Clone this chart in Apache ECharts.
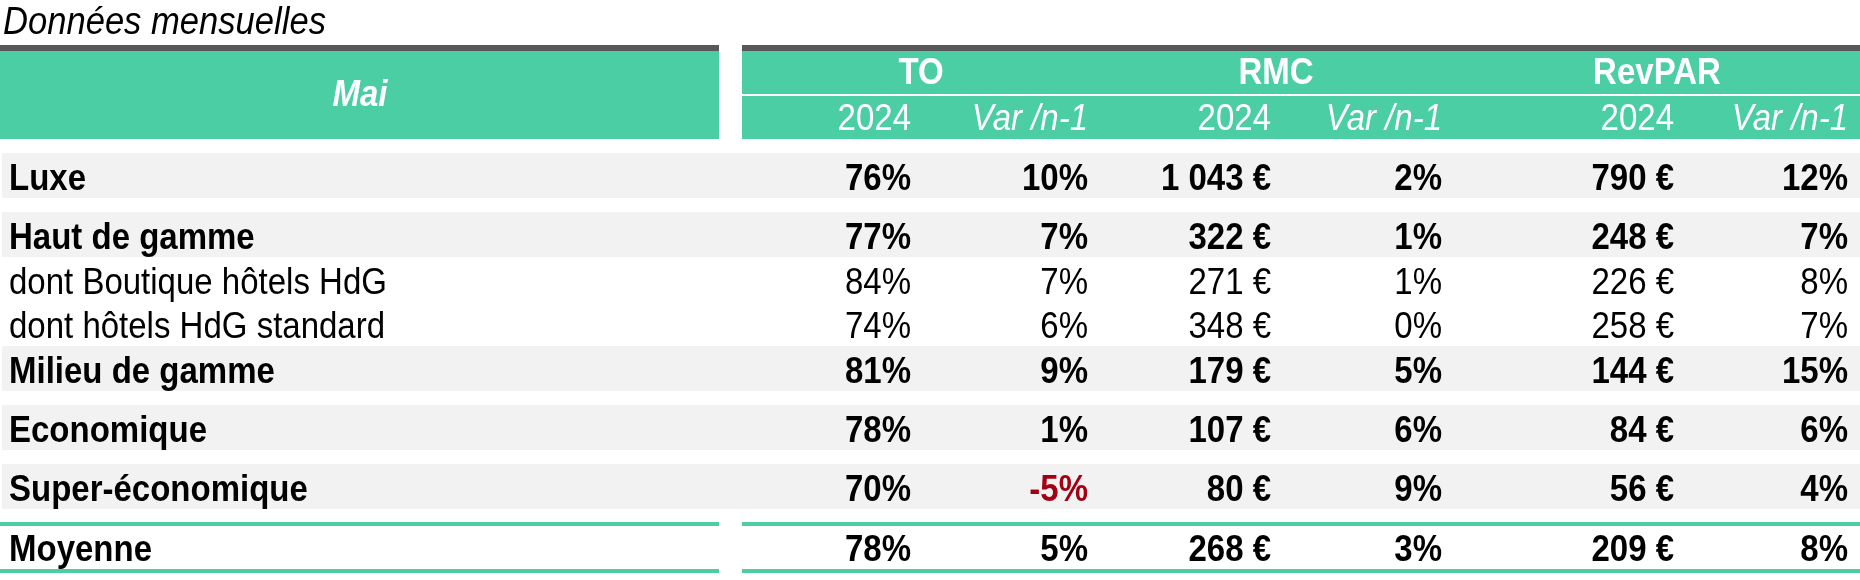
<!DOCTYPE html>
<html>
<head>
<meta charset="utf-8">
<title>Données mensuelles</title>
<script src="https://cdn.jsdelivr.net/npm/echarts@6/dist/echarts.min.js"></script>
<style>
    html, body { margin: 0; padding: 0; background: #fff; }
    #table_mai { width: 1860px; height: 580px; }
</style>
</head>
<body>
<div id="table_mai"></div>
<script>
// données du tableau
const titleText = 'Données mensuelles';
const periodLabel = 'Mai';
const groupLabels = ['TO', 'RMC', 'RevPAR'];
const subLabels = ['2024', 'Var /n-1'];
const categories = ['Luxe', 'Haut de gamme', 'dont Boutique hôtels HdG', 'dont hôtels HdG standard',
    'Milieu de gamme', 'Economique', 'Super-économique', 'Moyenne'];
const boldRows = [true, true, false, false, true, true, true, true];
const toRate = [76, 77, 84, 74, 81, 78, 70, 78];
const toVar = [10, 7, 7, 6, 9, 1, -5, 5];
const rmcValue = [1043, 322, 271, 348, 179, 107, 80, 268];
const rmcVar = [2, 1, 1, 0, 5, 6, 9, 3];
const revparValue = [790, 248, 226, 258, 144, 84, 56, 209];
const revparVar = [12, 7, 8, 7, 15, 6, 4, 8];

// mise en page (pixels)
const colRight = [911, 1088, 1271, 1442, 1674, 1848];
const groupCenter = [921, 1276, 1657];
const rowBottom = [198, 257, 302, 346, 391, 450, 509, 569];
const bandHeight = 45;
const FONT = "'Liberation Sans', Arial, sans-serif";
const STRETCH = 1.1; // le texte d'origine est un peu étiré en hauteur
const GREEN = '#4CCEA5';
const GREY_BAR = '#58585A';
const BAND = '#F2F2F2';
const RED = '#A30013';

function pct(v) { return v + '%'; }
function euro(v) {
    return String(v).replace(/\B(?=(\d{3})+(?!\d))/g, '\u00a0') + '\u00a0€';
}

// colonnes : valeur + formatage
const columns = [
    { data: toRate, fmt: pct },
    { data: toVar, fmt: pct },
    { data: rmcValue, fmt: euro },
    { data: rmcVar, fmt: pct },
    { data: revparValue, fmt: euro },
    { data: revparVar, fmt: pct }
];

let bandData = [];
let labelData = [];
let cellData = [];
categories.forEach(function (name, r) {
    if (boldRows[r] && r < categories.length - 1) bandData.push([0, r]);
    labelData.push([0, r]);
    columns.forEach(function (col, c) {
        cellData.push([c, r]);
    });
});

function textY(r) { return rowBottom[r] - 18.5; }

// élément texte (ancre x,y, étiré verticalement autour de l'ancre)
function txt(x, y, text, font, fill, align) {
    return { type: 'text', x: x, y: y, scaleY: STRETCH,
        style: { text: text, font: font, fill: fill, align: align, verticalAlign: 'middle' } };
}

const myChart = echarts.init(document.getElementById('table_mai'));

let graphics = [
    txt(3, 23.5, titleText, 'italic 34.6px ' + FONT, '#000', 'left'),
    // bandeau d'en-tête
    { type: 'rect', shape: { x: 0, y: 45, width: 719, height: 6 }, style: { fill: GREY_BAR } },
    { type: 'rect', shape: { x: 742, y: 45, width: 1118, height: 6 }, style: { fill: GREY_BAR } },
    { type: 'rect', shape: { x: 0, y: 51, width: 719, height: 88 }, style: { fill: GREEN } },
    { type: 'rect', shape: { x: 742, y: 51, width: 1118, height: 88 }, style: { fill: GREEN } },
    { type: 'rect', shape: { x: 742, y: 94, width: 1118, height: 2 }, style: { fill: '#fff' } },
    txt(360, 95.5, periodLabel, 'italic bold 33px ' + FONT, '#fff', 'center'),
    // lignes de la moyenne
    { type: 'rect', shape: { x: 0, y: 522, width: 719, height: 4 }, style: { fill: GREEN } },
    { type: 'rect', shape: { x: 742, y: 522, width: 1118, height: 4 }, style: { fill: GREEN } },
    { type: 'rect', shape: { x: 0, y: 569, width: 719, height: 4 }, style: { fill: GREEN } },
    { type: 'rect', shape: { x: 742, y: 569, width: 1118, height: 4 }, style: { fill: GREEN } }
];
groupLabels.forEach(function (g, i) {
    graphics.push(txt(groupCenter[i], 73.5, g, 'bold 33px ' + FONT, '#fff', 'center'));
});
colRight.forEach(function (x, c) {
    let italic = c % 2 === 1;
    graphics.push(txt(x, 119.5, subLabels[c % 2], (italic ? 'italic ' : '') + '33px ' + FONT, '#fff', 'right'));
});

var option = {
    animation: false,
    grid: { left: 0, right: 0, top: 0, bottom: 0 },
    xAxis: { type: 'value', min: 0, max: 1860, show: false },
    yAxis: { type: 'value', min: 0, max: 580, inverse: true, show: false },
    graphic: graphics,
    series: [
        {
            // fonds gris des lignes principales
            type: 'custom',
            clip: false,
            silent: true,
            data: bandData,
            renderItem: function (params, api) {
                let r = api.value(1);
                let p0 = api.coord([2, rowBottom[r] - bandHeight]);
                let p1 = api.coord([1860, rowBottom[r]]);
                return { type: 'rect', shape: { x: p0[0], y: p0[1], width: p1[0] - p0[0], height: p1[1] - p0[1] }, style: { fill: BAND } };
            }
        },
        {
            // libellés des catégories
            type: 'custom',
            clip: false,
            silent: true,
            data: labelData,
            renderItem: function (params, api) {
                let r = api.value(1);
                let p = api.coord([9, textY(r)]);
                return txt(p[0], p[1], categories[r], (boldRows[r] ? 'bold ' : '') + '33px ' + FONT, '#000', 'left');
            }
        },
        {
            // valeurs
            type: 'custom',
            clip: false,
            silent: true,
            data: cellData,
            renderItem: function (params, api) {
                let c = api.value(0);
                let r = api.value(1);
                let v = columns[c].data[r];
                let p = api.coord([colRight[c], textY(r)]);
                return txt(p[0], p[1], columns[c].fmt(v), (boldRows[r] ? 'bold ' : '') + '33px ' + FONT,
                    v < 0 ? RED : '#000', 'right');
            }
        }
    ]
};
myChart.setOption(option);
window.addEventListener("resize", function () {
    myChart.resize();
});
</script>
</body>
</html>
